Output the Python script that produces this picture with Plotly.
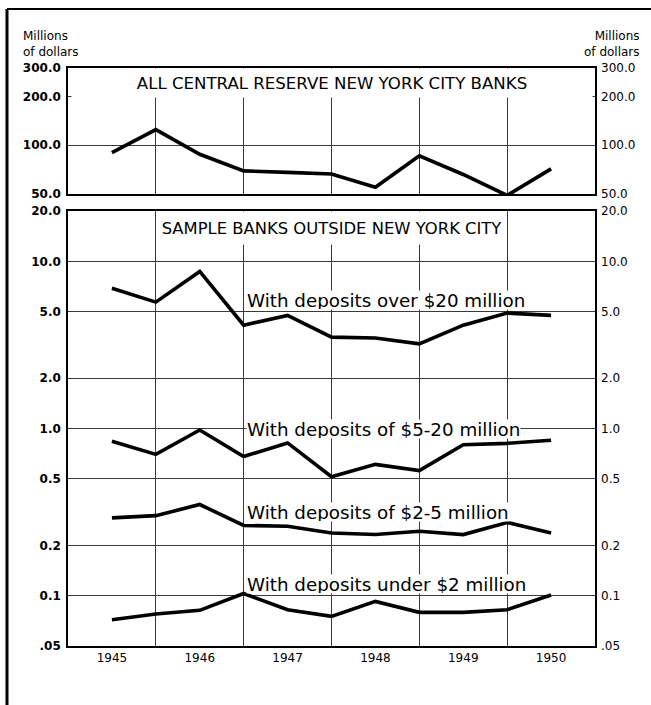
import math
import plotly.graph_objects as go

# ---- data ----
periods = [1945, 1945.5, 1946, 1946.5, 1947, 1947.5, 1948, 1948.5, 1949, 1949.5, 1950]
year_ticks = [1945, 1946, 1947, 1948, 1949, 1950]
year_bounds = [1945.5, 1946.5, 1947.5, 1948.5, 1949.5]

nyc_banks = [90, 125, 88, 69.5, 68, 66.5, 55, 86, 66, 49, 71.5]
over_20m = [6.9, 5.7, 8.7, 4.15, 4.75, 3.52, 3.48, 3.21, 4.15, 4.9, 4.75]
dep_5_20m = [0.84, 0.70, 0.98, 0.68, 0.82, 0.515, 0.61, 0.56, 0.80, 0.815, 0.85]
dep_2_5m = [0.292, 0.301, 0.351, 0.263, 0.26, 0.237, 0.232, 0.243, 0.232, 0.274, 0.237]
under_2m = [0.0718, 0.0777, 0.0817, 0.103, 0.0824, 0.0752, 0.0924, 0.0795, 0.0795, 0.0824, 0.101]

top_ticks = [50, 100, 200, 300]
top_ticktext = ["50.0", "100.0", "200.0", "300.0"]
bot_ticks = [0.05, 0.1, 0.2, 0.5, 1, 2, 5, 10, 20]
bot_ticktext = [".05", "0.1", "0.2", "0.5", "1.0", "2.0", "5.0", "10.0", "20.0"]

top_title = "ALL CENTRAL RESERVE NEW YORK CITY BANKS"
bot_title = "SAMPLE BANKS OUTSIDE NEW YORK CITY"
series_labels = [
    "With deposits over $20 million",
    "With deposits of $5-20 million",
    "With deposits of $2-5 million",
    "With deposits under $2 million",
]
unit_label = "Millions<br>of dollars"

# ---- layout constants ----
W, H = 651, 705
ML, MR, MT, MB = 68, 56, 68, 59
PW, PH = W - ML - MR, H - MT - MB
TXT_FONT = "DejaVu Sans, sans-serif"
TICK_FONT = "DejaVu Sans, sans-serif"
LINE = dict(color="black", width=3.6)
GRID = "#3a3a3a"

fig = go.Figure()

fig.add_trace(go.Scatter(x=periods, y=nyc_banks, mode="lines", line=LINE,
                         xaxis="x", yaxis="y", showlegend=False, hoverinfo="skip"))
for s in [over_20m, dep_5_20m, dep_2_5m, under_2m]:
    fig.add_trace(go.Scatter(x=periods, y=s, mode="lines", line=LINE,
                             xaxis="x2", yaxis="y2", showlegend=False, hoverinfo="skip"))
# invisible anchors for the right-hand axes
fig.add_trace(go.Scatter(x=periods[:1], y=nyc_banks[:1], mode="markers", marker=dict(opacity=0),
                         xaxis="x", yaxis="y3", showlegend=False, hoverinfo="skip"))
fig.add_trace(go.Scatter(x=periods[:1], y=over_20m[:1], mode="markers", marker=dict(opacity=0),
                         xaxis="x2", yaxis="y4", showlegend=False, hoverinfo="skip"))

top_dom = [1 - 126 / PH, 1]
bot_dom = [0, 435 / PH]

xcommon = dict(range=[1944.5, 1950.5], tickvals=year_ticks, ticktext=[str(y) for y in year_ticks],
               showgrid=False, zeroline=False, showline=True, linecolor="black", linewidth=1.6,
               mirror=True, ticks="",
               minor=dict(tickvals=year_bounds, showgrid=True, gridcolor=GRID, gridwidth=1, ticks=""),
               tickfont=dict(family=TICK_FONT, size=12, color="black"))
fig.update_layout(
    xaxis=dict(xcommon, anchor="y", showticklabels=False),
    xaxis2=dict(xcommon, anchor="y2", showticklabels=True),
    yaxis=dict(domain=top_dom, type="log", range=[math.log10(50), math.log10(300)],
               tickvals=top_ticks, ticktext=top_ticktext, showgrid=True, gridcolor=GRID, gridwidth=1,
               showline=True, mirror=True, linecolor="black", linewidth=1.6, ticks="", anchor="x",
               ticklabelstandoff=3,
               tickfont=dict(family=TICK_FONT, size=12, color="black", weight="bold")),
    yaxis2=dict(domain=bot_dom, type="log", range=[math.log10(0.05), math.log10(20)],
                tickvals=bot_ticks, ticktext=bot_ticktext, showgrid=True, gridcolor=GRID, gridwidth=1,
                showline=True, mirror=True, linecolor="black", linewidth=1.6, ticks="", anchor="x2",
                ticklabelstandoff=3,
                tickfont=dict(family=TICK_FONT, size=12, color="black", weight="bold")),
    yaxis3=dict(overlaying="y", side="right", type="log", range=[math.log10(50), math.log10(300)],
                tickvals=top_ticks, ticktext=top_ticktext, showgrid=False, ticks="", anchor="x",
                showline=False, ticklabelstandoff=5,
                tickfont=dict(family=TICK_FONT, size=12, color="black")),
    yaxis4=dict(overlaying="y2", side="right", type="log", range=[math.log10(0.05), math.log10(20)],
                tickvals=bot_ticks, ticktext=bot_ticktext, showgrid=False, ticks="", anchor="x2",
                showline=False, ticklabelstandoff=5,
                tickfont=dict(family=TICK_FONT, size=12, color="black")),
    width=W, height=H,
    margin=dict(l=ML, r=MR, t=MT, b=MB),
    plot_bgcolor="white", paper_bgcolor="white",
)

ann = []
# panel titles
ann.append(dict(text=top_title, x=1947.5, y=math.log10(244), xref="x", yref="y",
                showarrow=False, bgcolor="white", width=518, height=26,
                font=dict(family=TXT_FONT, size=16.6, color="black")))
ann.append(dict(text=bot_title, x=1947.5, y=math.log10(15.9), xref="x2", yref="y2",
                showarrow=False, bgcolor="white", width=346, height=30,
                font=dict(family=TXT_FONT, size=16.4, color="black")))
# series labels
label_y = [0.7685, -0.005, -0.498, -0.930]
for txt, ly in zip(series_labels, label_y):
    ann.append(dict(text=txt, x=1946.5, y=ly, xref="x2", yref="y2", xanchor="left",
                    xshift=2, showarrow=False, bgcolor="white", borderpad=0, height=18,
                    font=dict(family=TXT_FONT, size=18.3, color="black")))
# unit labels
for xx, anchor in [((21 - ML) / PW, "left"), ((642 - ML) / PW, "right")]:
    ann.append(dict(text=unit_label, x=xx, y=(H - MB - 44) / PH, xref="paper", yref="paper",
                    xanchor=anchor, yanchor="middle", align=anchor, showarrow=False,
                    font=dict(family=TXT_FONT, size=12, color="black")))
fig.update_layout(annotations=ann)

# outer frame of the page
px2x = lambda p: (p - ML) / PW
px2y = lambda p: (H - MB - p) / PH
fig.add_shape(type="line", xref="paper", yref="paper", x0=px2x(7), x1=px2x(651), y0=px2y(9), y1=px2y(9),
              line=dict(color="black", width=2))
fig.add_shape(type="line", xref="paper", yref="paper", x0=px2x(7), x1=px2x(7), y0=px2y(9), y1=px2y(705),
              line=dict(color="black", width=3))

fig.write_html("out.html", config={"displayModeBar": False},
               post_script="document.body.style.margin='0';document.body.style.overflow='hidden';")
